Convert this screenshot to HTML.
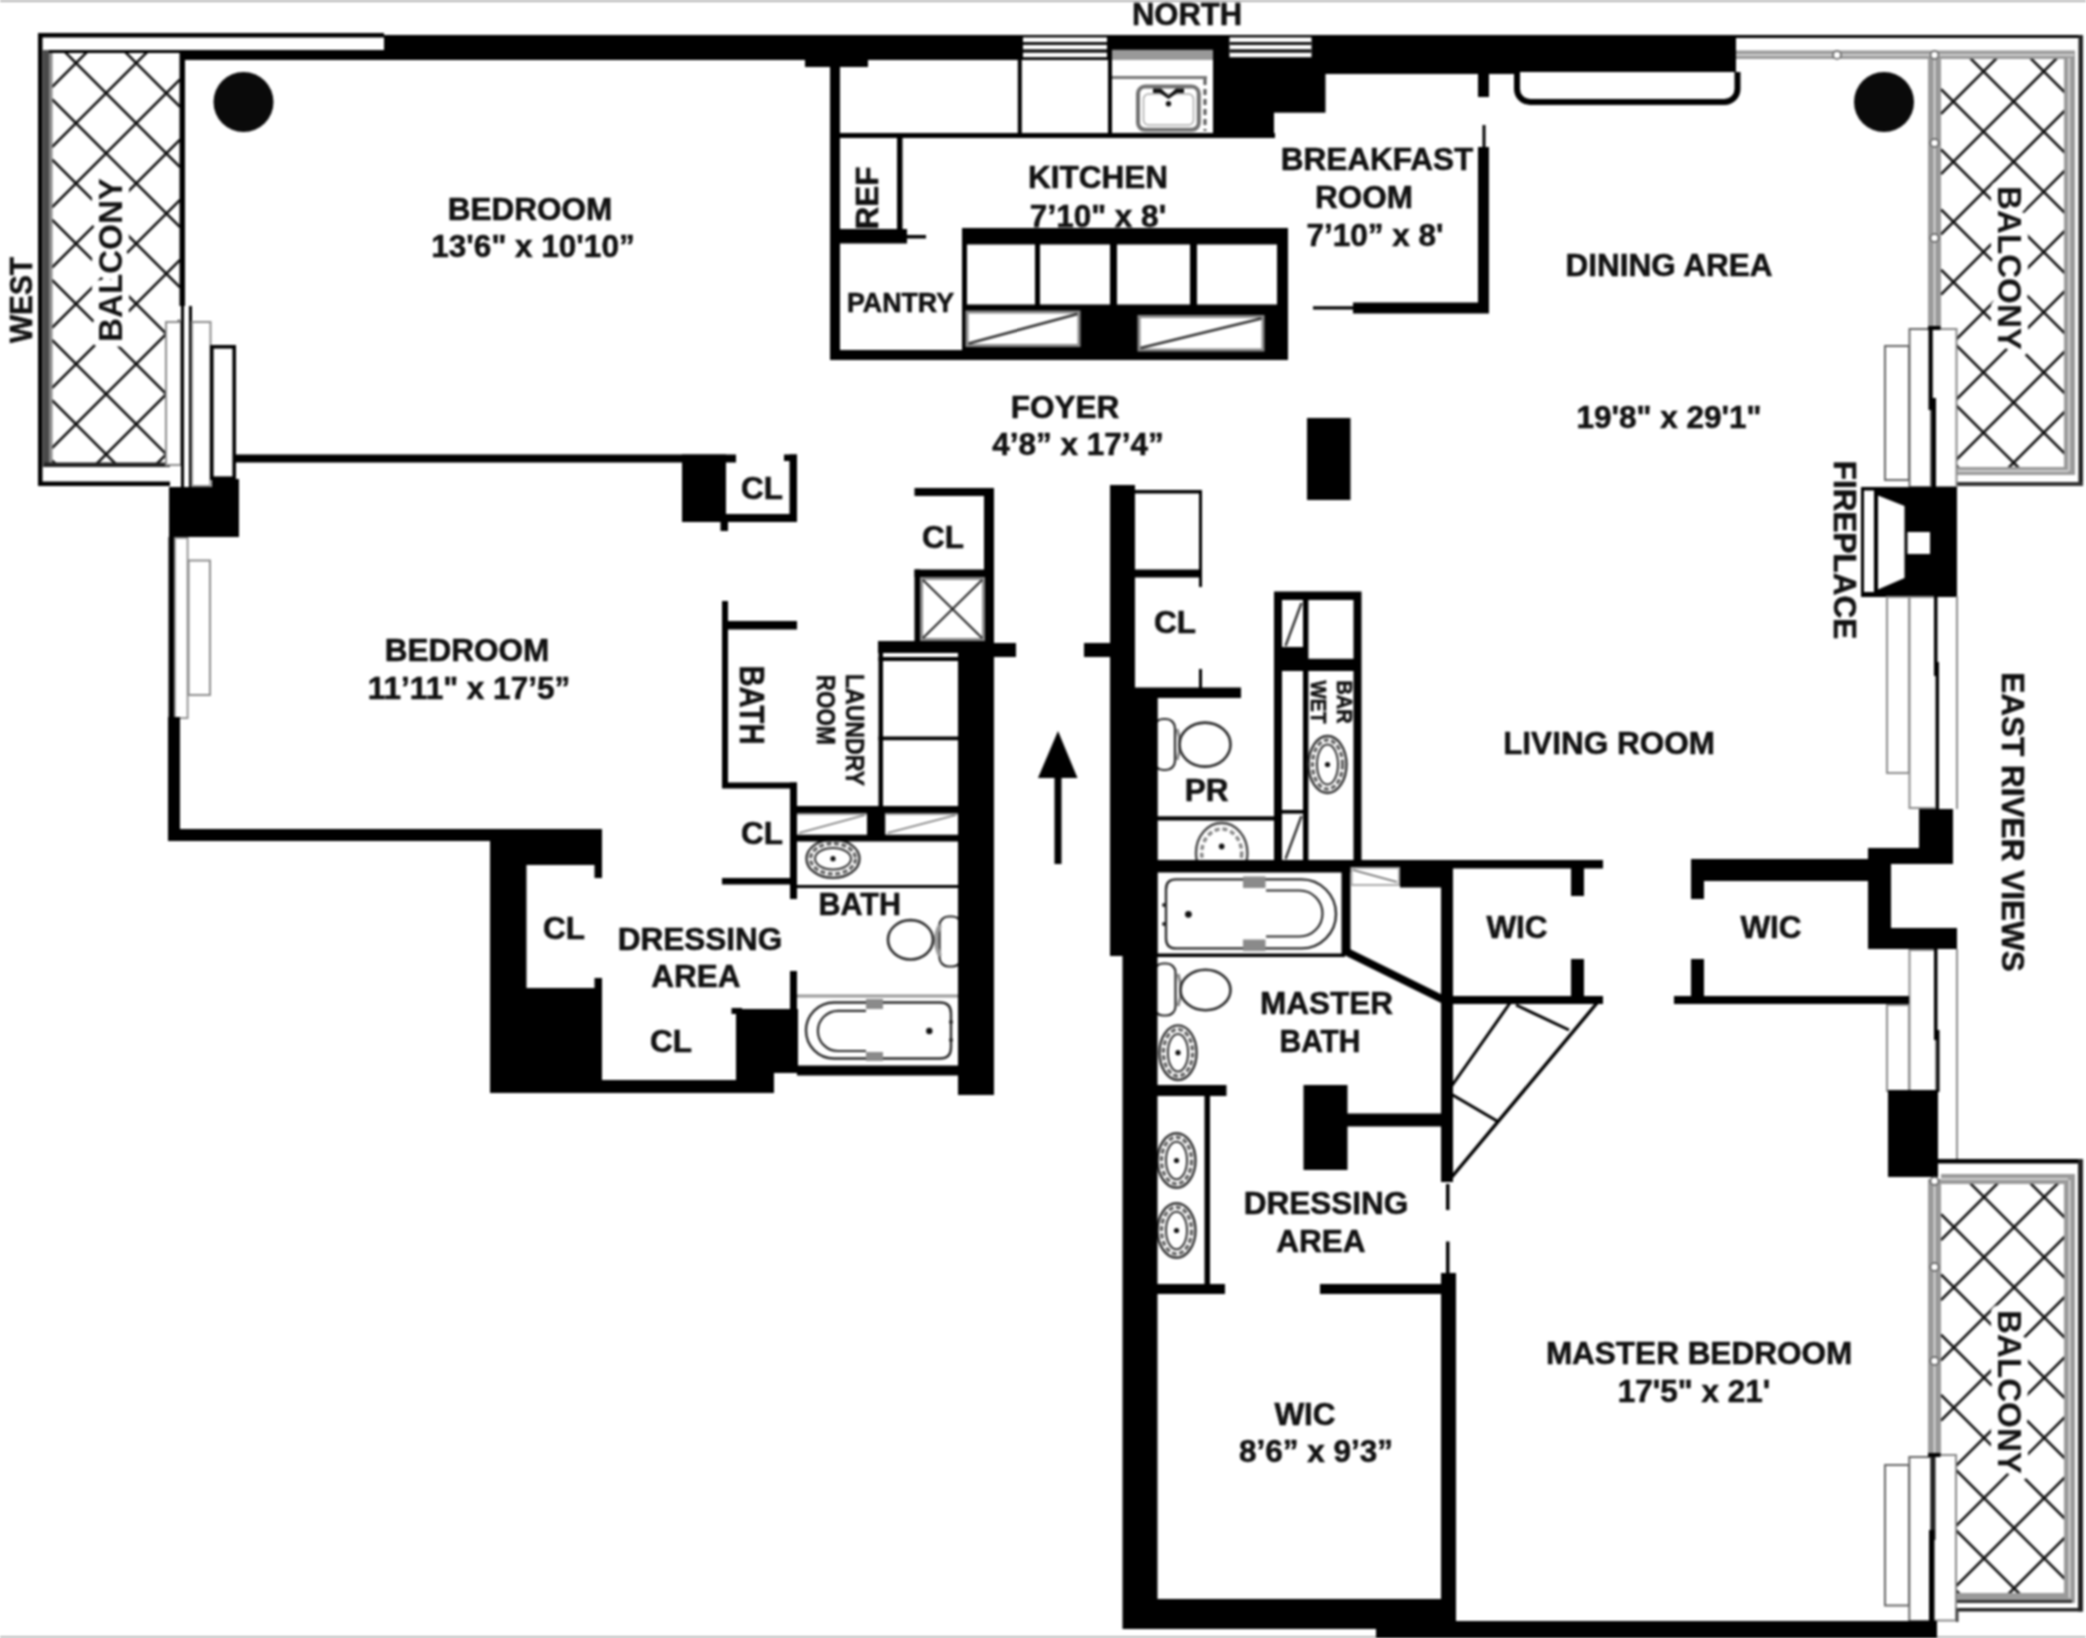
<!DOCTYPE html>
<html><head><meta charset="utf-8"><title>Floor plan</title>
<style>
html,body{margin:0;padding:0;background:#fff;}
body{width:2086px;height:1638px;overflow:hidden;}
svg{display:block;filter:blur(0.8px);}
svg text{font-family:"Liberation Sans",sans-serif;font-weight:bold;fill:#111;stroke:#111;stroke-width:0.55px;}
</style></head><body>
<svg width="2086" height="1638" viewBox="0 0 2086 1638">
<rect x="0" y="0" width="2086" height="1638" fill="#fff"/>
<rect x="0" y="0" width="2086" height="1.8" fill="#a8a8a8" />
<ellipse cx="833" cy="858.7" rx="26.5" ry="19.2" fill="#fff" stroke="#333" stroke-width="2.4"/>
<ellipse cx="833" cy="858.7" rx="22.5" ry="15.2" fill="none" stroke="#666" stroke-width="3.4" stroke-dasharray="5 2.5"/>
<ellipse cx="833" cy="858.7" rx="18.0" ry="10.7" fill="#fff" stroke="#333" stroke-width="2"/>
<circle cx="833" cy="858.7" r="2.6" fill="#111"/>
<rect x="939.5" y="916.5" width="22" height="50" rx="9" fill="#fff" stroke="#2a2a2a" stroke-width="2.2"/>
<path d="M940 925 q-8 15 0 31" fill="none" stroke="#999" stroke-width="4"/>
<ellipse cx="910.5" cy="939.8" rx="22.5" ry="19.7" fill="#fff" stroke="#2a2a2a" stroke-width="2.6"/>
<rect x="797" y="994.5" width="161" height="3.0" fill="#9a9a9a" />
<path d="M834 1002.5 H940 q11 0 11 11 V1047.5 q0 11 -11 11 H834 a28 28 0 0 1 0 -56 Z" fill="#fff" stroke="#2a2a2a" stroke-width="2.4"/>
<path d="M866 1010.8 H838 a20.1 20.1 0 0 0 0 40.2 H866" fill="none" stroke="#2a2a2a" stroke-width="2.2"/>
<rect x="866" y="999" width="17" height="10" fill="#8a8a8a" />
<rect x="866" y="1052" width="17" height="9" fill="#8a8a8a" />
<circle cx="929.3" cy="1031" r="3.2" fill="#111"/>
<circle cx="951" cy="1022" r="2" fill="#222"/><circle cx="951" cy="1040" r="2" fill="#222"/>
<rect x="1154" y="719" width="21" height="51" rx="9" fill="#fff" stroke="#2a2a2a" stroke-width="2.2"/>
<path d="M1177 729 q6 15 0 31" fill="none" stroke="#888" stroke-width="3"/>
<ellipse cx="1205" cy="744.6" rx="25.5" ry="22" fill="#fff" stroke="#2a2a2a" stroke-width="2.6"/>
<clipPath id="cpr"><rect x="1157" y="815" width="118" height="46"/></clipPath>
<ellipse cx="1221.7" cy="853" rx="25.7" ry="30" fill="#fff" stroke="#444" stroke-width="2.4" clip-path="url(#cpr)"/>
<ellipse cx="1221.7" cy="853" rx="20" ry="24" fill="none" stroke="#888" stroke-width="3.5" stroke-dasharray="5 3" clip-path="url(#cpr)"/>
<circle cx="1221.7" cy="846.4" r="2.8" fill="#111"/>
<path d="M1176 879.4 H1301.5 a34.5 34.5 0 0 1 0 69 H1176 q-10 0 -10 -10 V889.4 q0 -10 10 -10 Z" fill="#fff" stroke="#2a2a2a" stroke-width="2.4"/>
<path d="M1266 890.5 H1299.5 a23 23 0 0 1 0 46 H1266" fill="none" stroke="#2a2a2a" stroke-width="2.2"/>
<rect x="1243" y="876.5" width="22.5" height="11.5" fill="#8a8a8a" />
<rect x="1243" y="939.5" width="22.5" height="11.5" fill="#8a8a8a" />
<circle cx="1188.4" cy="914.3" r="3.4" fill="#111"/>
<circle cx="1164" cy="905" r="2" fill="#222"/><circle cx="1164" cy="924" r="2" fill="#222"/>
<rect x="1154" y="963.5" width="21.5" height="52" rx="9" fill="#fff" stroke="#2a2a2a" stroke-width="2.2"/>
<path d="M1178 974 q6 16 0 32" fill="none" stroke="#888" stroke-width="3"/>
<ellipse cx="1205.5" cy="990" rx="25" ry="20.3" fill="#fff" stroke="#2a2a2a" stroke-width="2.6"/>
<ellipse cx="1178" cy="1052.7" rx="18.6" ry="27.3" fill="#fff" stroke="#333" stroke-width="2.4"/>
<ellipse cx="1178" cy="1052.7" rx="14.600000000000001" ry="23.3" fill="none" stroke="#666" stroke-width="3.4" stroke-dasharray="5 2.5"/>
<ellipse cx="1178" cy="1052.7" rx="10.100000000000001" ry="18.8" fill="#fff" stroke="#333" stroke-width="2"/>
<circle cx="1178" cy="1052.7" r="2.6" fill="#111"/>
<ellipse cx="1176.5" cy="1160.5" rx="19" ry="27.3" fill="#fff" stroke="#333" stroke-width="2.4"/>
<ellipse cx="1176.5" cy="1160.5" rx="15" ry="23.3" fill="none" stroke="#666" stroke-width="3.4" stroke-dasharray="5 2.5"/>
<ellipse cx="1176.5" cy="1160.5" rx="10.5" ry="18.8" fill="#fff" stroke="#333" stroke-width="2"/>
<circle cx="1176.5" cy="1160.5" r="2.6" fill="#111"/>
<ellipse cx="1176.5" cy="1230.5" rx="19" ry="27.3" fill="#fff" stroke="#333" stroke-width="2.4"/>
<ellipse cx="1176.5" cy="1230.5" rx="15" ry="23.3" fill="none" stroke="#666" stroke-width="3.4" stroke-dasharray="5 2.5"/>
<ellipse cx="1176.5" cy="1230.5" rx="10.5" ry="18.8" fill="#fff" stroke="#333" stroke-width="2"/>
<circle cx="1176.5" cy="1230.5" r="2.6" fill="#111"/>
<clipPath id="hw"><rect x="52" y="53" width="128" height="410"/></clipPath>
<g clip-path="url(#hw)" stroke="#111" stroke-width="2.6">
<line x1="52" y1="-21.2" x2="180" y2="106.8"/>
<line x1="52" y1="39.0" x2="180" y2="167.0"/>
<line x1="52" y1="99.2" x2="180" y2="227.2"/>
<line x1="52" y1="159.4" x2="180" y2="287.4"/>
<line x1="52" y1="219.6" x2="180" y2="347.6"/>
<line x1="52" y1="279.8" x2="180" y2="407.8"/>
<line x1="52" y1="340.0" x2="180" y2="468.0"/>
<line x1="52" y1="400.2" x2="180" y2="528.2"/>
<line x1="52" y1="460.4" x2="180" y2="588.4"/>
<line x1="52" y1="87.0" x2="180" y2="-41.0"/>
<line x1="52" y1="147.2" x2="180" y2="19.2"/>
<line x1="52" y1="207.4" x2="180" y2="79.4"/>
<line x1="52" y1="267.6" x2="180" y2="139.6"/>
<line x1="52" y1="327.8" x2="180" y2="199.8"/>
<line x1="52" y1="388.0" x2="180" y2="260.0"/>
<line x1="52" y1="448.2" x2="180" y2="320.2"/>
<line x1="52" y1="508.4" x2="180" y2="380.4"/>
<line x1="52" y1="568.6" x2="180" y2="440.6"/>
</g>
<rect x="38" y="33" width="346" height="4.5" fill="#000" />
<rect x="38" y="33" width="4.5" height="453" fill="#000" />
<rect x="38" y="481.5" width="132" height="4.5" fill="#000" />
<rect x="44" y="50" width="136" height="3" fill="#000" />
<rect x="42.5" y="50" width="6.5" height="417" fill="#4a4a4a" />
<rect x="49" y="53" width="3.5" height="410" fill="#8a8a8a" />
<rect x="44" y="462.5" width="126" height="4.5" fill="#222" />
<rect x="179.5" y="50" width="5.5" height="256" fill="#000" />
<rect x="180" y="50" width="204" height="10" fill="#000" />
<rect x="384" y="35" width="1352" height="25" fill="#000" />
<rect x="1325" y="35" width="411" height="39" fill="#000" />
<rect x="805" y="60" width="63" height="7" fill="#000" />
<rect x="1023" y="37.4" width="84" height="19.8" fill="#fff" />
<rect x="1023" y="42" width="84" height="3" fill="#111" />
<rect x="1023" y="49.3" width="84" height="3.4" fill="#111" />
<rect x="1229.5" y="37.4" width="82.0" height="19.8" fill="#fff" />
<rect x="1229.5" y="42" width="82.0" height="3" fill="#111" />
<rect x="1229.5" y="49.3" width="82.0" height="3.4" fill="#111" />
<circle cx="243.5" cy="102" r="30" fill="#0a0a0a"/>
<rect x="235" y="454.5" width="501" height="8.0" fill="#000" />
<rect x="682" y="454.5" width="44" height="67.5" fill="#000" />
<rect x="789.5" y="454.5" width="7.5" height="67.5" fill="#000" />
<rect x="784" y="454.5" width="13" height="6.5" fill="#000" />
<rect x="726" y="514" width="71" height="8" fill="#000" />
<rect x="720.5" y="522" width="7.5" height="9" fill="#000" />
<rect x="166.0" y="322.0" width="15" height="143" fill="#fff" stroke="#8c8c8c" stroke-width="2"/>
<rect x="181" y="306" width="3" height="181" fill="#000" />
<rect x="189" y="306" width="3" height="181" fill="#000" />
<rect x="192.0" y="322.0" width="18.5" height="164" fill="#fff" stroke="#8c8c8c" stroke-width="2"/>
<rect x="211.8" y="346.8" width="22.4" height="131.4" fill="#fff" stroke="#000" stroke-width="3.6"/>
<rect x="169" y="487" width="70" height="50" fill="#000" />
<rect x="212" y="479" width="27" height="11" fill="#000" />
<rect x="168.5" y="537" width="7.0" height="182" fill="#000" />
<rect x="174.9" y="537.9" width="12.7" height="180.2" fill="#fff" stroke="#8c8c8c" stroke-width="1.8"/>
<rect x="188.5" y="560.5" width="21.5" height="134.5" fill="#fff" stroke="#8c8c8c" stroke-width="2"/>
<rect x="168" y="717" width="12" height="124" fill="#000" />
<rect x="168" y="829" width="434" height="12" fill="#000" />
<rect x="490" y="829" width="112" height="36" fill="#000" />
<rect x="490" y="829" width="36.5" height="264" fill="#000" />
<rect x="594.5" y="865" width="7.5" height="13" fill="#000" />
<rect x="594.5" y="978" width="7.5" height="11" fill="#000" />
<rect x="490" y="988" width="112" height="105" fill="#000" />
<rect x="602" y="1080" width="172" height="13" fill="#000" />
<rect x="736" y="1009" width="62" height="64" fill="#000" />
<rect x="736" y="1009" width="38" height="84" fill="#000" />
<rect x="731.5" y="1008" width="10.5" height="6" fill="#000" />
<rect x="830" y="60" width="10" height="300" fill="#000" />
<rect x="830" y="350" width="458" height="10" fill="#000" />
<rect x="840" y="133" width="435" height="5" fill="#000" />
<rect x="1017.8" y="60" width="4.0" height="74" fill="#000" />
<rect x="1108" y="60" width="4" height="74" fill="#000" />
<rect x="1213" y="60" width="112.5" height="52.7" fill="#000" />
<rect x="1213" y="60" width="61" height="78" fill="#000" />
<rect x="897" y="138" width="5.5" height="94" fill="#000" />
<rect x="830" y="229" width="77" height="14.5" fill="#000" />
<rect x="907" y="235" width="19" height="3.5" fill="#000" />
<rect x="962" y="228" width="326" height="132" fill="#000" />
<rect x="967" y="244.5" width="68" height="60.0" fill="#fff" />
<rect x="1040" y="244.5" width="70" height="60.0" fill="#fff" />
<rect x="1117" y="244.5" width="73" height="60.0" fill="#fff" />
<rect x="1197" y="244.5" width="80" height="60.0" fill="#fff" />
<rect x="962" y="243.5" width="1.8" height="106.5" fill="#000" />
<rect x="967.0" y="312.0" width="112.0" height="33.5" fill="#fff" stroke="#8a8a8a" stroke-width="3"/>
<line x1="968.5" y1="343.5" x2="1077.5" y2="314.0" stroke="#333" stroke-width="2.6" />
<rect x="1139.0" y="316.5" width="124.0" height="33.5" fill="#fff" stroke="#8a8a8a" stroke-width="3"/>
<line x1="1140.5" y1="348.0" x2="1261.5" y2="318.5" stroke="#333" stroke-width="2.6" />
<rect x="1112" y="49.8" width="101" height="9.8" fill="#999" />
<rect x="1112" y="59.6" width="101" height="73.4" fill="#fff" />
<rect x="1112" y="76" width="95" height="3" fill="#777" />
<rect x="1138" y="86.5" width="60.8" height="43.3" rx="7" fill="#fff" stroke="#707070" stroke-width="4"/>
<rect x="1143.5" y="94" width="50" height="31" rx="5" fill="#fff" stroke="#aaa" stroke-width="1.5"/>
<path d="M1153 88.5 h8 l7.5 7 l7.5 -7 h8 v4.5 h-7 l-8.5 6 l-8.5 -6 h-7 Z" fill="#111"/>
<circle cx="1168.5" cy="103.7" r="2.7" fill="#111"/>
<line x1="1205" y1="79" x2="1205" y2="131" stroke="#555" stroke-width="3" stroke-dasharray="6 4"/>
<rect x="1478" y="60" width="11" height="37" fill="#000" />
<rect x="1482.5" y="125" width="3.0" height="25" fill="#000" />
<rect x="1478" y="147" width="11" height="166" fill="#000" />
<rect x="1353" y="302.5" width="136" height="11.0" fill="#000" />
<rect x="1313" y="306.3" width="41" height="3.2" fill="#000" />
<path d="M1517 72 V89 a13 13 0 0 0 13 13 H1724.5 a13 13 0 0 0 13 -13 V72" fill="#fff" stroke="#000" stroke-width="6"/>
<circle cx="1884" cy="102" r="30" fill="#0a0a0a"/>
<rect x="1307" y="418" width="43.5" height="82" fill="#000" />
<clipPath id="hne"><rect x="1941" y="58" width="125" height="410"/></clipPath>
<g clip-path="url(#hne)" stroke="#111" stroke-width="2.6">
<line x1="1941" y1="-31.3" x2="2066" y2="93.7"/>
<line x1="1941" y1="28.9" x2="2066" y2="153.9"/>
<line x1="1941" y1="89.1" x2="2066" y2="214.1"/>
<line x1="1941" y1="149.3" x2="2066" y2="274.3"/>
<line x1="1941" y1="209.5" x2="2066" y2="334.5"/>
<line x1="1941" y1="269.7" x2="2066" y2="394.7"/>
<line x1="1941" y1="329.9" x2="2066" y2="454.9"/>
<line x1="1941" y1="390.1" x2="2066" y2="515.1"/>
<line x1="1941" y1="450.3" x2="2066" y2="575.3"/>
<line x1="1941" y1="113.9" x2="2066" y2="-11.1"/>
<line x1="1941" y1="174.1" x2="2066" y2="49.1"/>
<line x1="1941" y1="234.3" x2="2066" y2="109.3"/>
<line x1="1941" y1="294.5" x2="2066" y2="169.5"/>
<line x1="1941" y1="354.7" x2="2066" y2="229.7"/>
<line x1="1941" y1="414.9" x2="2066" y2="289.9"/>
<line x1="1941" y1="475.1" x2="2066" y2="350.1"/>
<line x1="1941" y1="535.3" x2="2066" y2="410.3"/>
</g>
<rect x="1736" y="35" width="347" height="3" fill="#000" />
<rect x="2078.5" y="35" width="4.5" height="451" fill="#222" />
<rect x="1956" y="482" width="127" height="4" fill="#333" />
<rect x="1736" y="50.5" width="339" height="8.5" fill="#9a9a9a" />
<rect x="1928" y="52" width="13" height="276" fill="#9a9a9a" />
<rect x="2064" y="52" width="11" height="423" fill="#9a9a9a" />
<rect x="1956" y="467" width="118" height="8" fill="#9a9a9a" />
<rect x="1736" y="54.3" width="338" height="1.4" fill="#e8e8e8" />
<rect x="1933.8" y="58" width="1.4" height="270" fill="#e8e8e8" />
<rect x="2068.3" y="58" width="1.4" height="413" fill="#e8e8e8" />
<rect x="1956" y="470.3" width="112" height="1.4" fill="#e8e8e8" />
<circle cx="1837" cy="55" r="4" fill="#fff" stroke="#555" stroke-width="1.5"/>
<circle cx="1934.5" cy="55" r="4" fill="#fff" stroke="#555" stroke-width="1.5"/>
<circle cx="1934.5" cy="143" r="4" fill="#fff" stroke="#555" stroke-width="1.5"/>
<circle cx="1934.5" cy="238" r="4" fill="#fff" stroke="#555" stroke-width="1.5"/>
<rect x="1885.0" y="346.0" width="24" height="134" fill="#fff" stroke="#666" stroke-width="2"/>
<rect x="1909.5" y="329.0" width="21.5" height="158" fill="#fff" stroke="#666" stroke-width="2"/>
<rect x="1932.0" y="329.0" width="24.5" height="158" fill="#fff" stroke="#888" stroke-width="2"/>
<rect x="1928.5" y="328" width="4.0" height="82" fill="#000" />
<rect x="1931.5" y="398" width="4.5" height="90" fill="#000" />
<rect x="1928" y="326" width="12.5" height="4" fill="#000" />
<rect x="1861" y="487" width="96" height="110" fill="#000" />
<rect x="1864" y="490.5" width="10" height="101.5" fill="#fff" />
<polygon points="1878,495.5 1904.5,506 1904.5,578 1878,589.5" fill="#fff"/>
<rect x="1907.5" y="532" width="22.5" height="22" fill="#fff" />
<rect x="1887.0" y="597.0" width="22" height="176" fill="#fff" stroke="#8c8c8c" stroke-width="2"/>
<rect x="1909.5" y="597.0" width="26.5" height="211" fill="#fff" stroke="#8c8c8c" stroke-width="2"/>
<rect x="1934" y="596" width="3.5" height="80" fill="#000" />
<rect x="1936" y="662" width="3" height="147" fill="#000" />
<rect x="1956" y="596" width="2" height="213" fill="#8c8c8c" />
<rect x="1919" y="809" width="34" height="55" fill="#000" />
<rect x="1868" y="848" width="85" height="16" fill="#000" />
<rect x="1868" y="848" width="23" height="101" fill="#000" />
<rect x="1868" y="928" width="89" height="21" fill="#000" />
<rect x="1909.5" y="950.0" width="26.5" height="141" fill="#fff" stroke="#8c8c8c" stroke-width="2"/>
<rect x="1934" y="949" width="3.5" height="91" fill="#000" />
<rect x="1936.5" y="1030" width="3.0" height="62" fill="#000" />
<rect x="1956" y="949" width="2" height="211" fill="#8c8c8c" />
<rect x="1887.0" y="1005.0" width="22" height="86" fill="#fff" stroke="#8c8c8c" stroke-width="2"/>
<rect x="1888" y="1090" width="50" height="87" fill="#000" />
<rect x="1157" y="860" width="194" height="12.5" fill="#000" />
<rect x="1350" y="860" width="253" height="8.5" fill="#000" />
<rect x="1441" y="860" width="12" height="322" fill="#000" />
<rect x="1571" y="868" width="13" height="28" fill="#000" />
<rect x="1571" y="959" width="13" height="38" fill="#000" />
<rect x="1451" y="996" width="152" height="8" fill="#000" />
<rect x="1691" y="859" width="177" height="22" fill="#000" />
<rect x="1691" y="881" width="13" height="18" fill="#000" />
<rect x="1691" y="959" width="13" height="38" fill="#000" />
<rect x="1674" y="996" width="235" height="8" fill="#000" />
<path d="M1597 1003 L1451 1178" stroke="#000" stroke-width="3.4" fill="none" />
<path d="M1510 1003 L1451 1087" stroke="#000" stroke-width="3" fill="none" />
<path d="M1516 1005 L1569 1030" stroke="#000" stroke-width="3" fill="none" />
<path d="M1451 1094 L1497 1121" stroke="#000" stroke-width="3" fill="none" />
<rect x="958" y="644" width="36" height="451" fill="#000" />
<rect x="878" y="641" width="116" height="12" fill="#000" />
<rect x="958" y="643" width="58" height="14" fill="#000" />
<rect x="984" y="488" width="10" height="156" fill="#000" />
<rect x="914.5" y="488" width="79.5" height="8" fill="#000" />
<rect x="914.5" y="569.5" width="70.5" height="7.5" fill="#000" />
<rect x="914.5" y="569.5" width="5.5" height="73.5" fill="#000" />
<rect x="921.5" y="578.5" width="62" height="61" fill="#fff" stroke="#8a8a8a" stroke-width="3"/>
<line x1="923" y1="580" x2="982" y2="638" stroke="#222" stroke-width="2" />
<line x1="982" y1="580" x2="923" y2="638" stroke="#222" stroke-width="2" />
<rect x="1110" y="485" width="25" height="471" fill="#000" />
<rect x="1122.5" y="691" width="35.0" height="938" fill="#000" />
<rect x="1135" y="691" width="22.5" height="265" fill="#000" />
<rect x="1084" y="643" width="26" height="14" fill="#000" />
<rect x="1135" y="490" width="67" height="3.5" fill="#000" />
<rect x="1199" y="490" width="3" height="97" fill="#000" />
<rect x="1135" y="569.5" width="67" height="8.0" fill="#000" />
<rect x="1199" y="669" width="3" height="21" fill="#000" />
<rect x="1135" y="687.5" width="106" height="10.5" fill="#000" />
<polygon points="1058,731 1077.5,778 1038,778" fill="#000"/>
<rect x="1054.5" y="775" width="7.0" height="89" fill="#000" />
<rect x="722" y="601" width="6" height="187" fill="#000" />
<rect x="722" y="621" width="75" height="8.5" fill="#000" />
<rect x="722" y="782.5" width="75" height="6.0" fill="#000" />
<rect x="790" y="782.5" width="7" height="116.5" fill="#000" />
<rect x="722" y="878" width="75" height="6.5" fill="#000" />
<rect x="790" y="971" width="7" height="98" fill="#000" />
<rect x="797" y="806" width="161" height="7" fill="#000" />
<rect x="797" y="834.5" width="161" height="7.0" fill="#000" />
<rect x="867" y="806" width="18.5" height="35" fill="#000" />
<rect x="797" y="813" width="70" height="21.5" fill="#fff" />
<line x1="799" y1="833" x2="865" y2="815" stroke="#777" stroke-width="1.8" />
<rect x="797" y="813" width="70" height="2" fill="#999" />
<rect x="885.5" y="813" width="72.5" height="21.5" fill="#fff" />
<line x1="887.5" y1="833" x2="956" y2="815" stroke="#777" stroke-width="1.8" />
<rect x="885.5" y="813" width="72.5" height="2" fill="#999" />
<rect x="797" y="885" width="161" height="3" fill="#000" />
<rect x="797" y="1065.5" width="161" height="10.0" fill="#000" />
<rect x="878.5" y="653" width="4.5" height="154" fill="#000" />
<rect x="878.5" y="657" width="79.5" height="4" fill="#000" />
<rect x="878.5" y="736.5" width="79.5" height="3.7" fill="#000" />
<rect x="883" y="653" width="75" height="4" fill="#fff" />
<rect x="1157" y="816.3" width="118" height="4.2" fill="#000" />
<rect x="1274" y="591.5" width="87.5" height="277.5" fill="#000" />
<rect x="1282" y="600" width="21" height="47" fill="#fff" />
<rect x="1308.4" y="600" width="45.1" height="58.8" fill="#fff" />
<rect x="1282" y="671" width="21" height="139" fill="#fff" />
<rect x="1282" y="813.6" width="21" height="46.4" fill="#fff" />
<rect x="1308.4" y="671" width="45.1" height="189" fill="#fff" />
<line x1="1285.5" y1="646" x2="1301.5" y2="603" stroke="#333" stroke-width="2.4" />
<line x1="1285.5" y1="859" x2="1301.5" y2="816" stroke="#333" stroke-width="2.4" />
<ellipse cx="1327.5" cy="764.5" rx="19" ry="28.5" fill="#fff" stroke="#333" stroke-width="2.4"/>
<ellipse cx="1327.5" cy="764.5" rx="15" ry="24.5" fill="none" stroke="#666" stroke-width="3.4" stroke-dasharray="5 2.5"/>
<ellipse cx="1327.5" cy="764.5" rx="10.5" ry="20.0" fill="#fff" stroke="#333" stroke-width="2"/>
<circle cx="1327.5" cy="764.5" r="2.6" fill="#111"/>
<rect x="1341.5" y="870" width="9.0" height="85" fill="#000" />
<rect x="1157" y="953.5" width="188" height="3.5" fill="#000" />
<path d="M1345 951 L1444 1000" stroke="#000" stroke-width="8" fill="none" />
<rect x="1351.5" y="868.0" width="47.5" height="17" fill="#fff" stroke="#aaa" stroke-width="2"/>
<line x1="1353" y1="870" x2="1397" y2="882" stroke="#666" stroke-width="1.8" />
<rect x="1400" y="866.5" width="50" height="21.0" fill="#000" />
<rect x="1303.5" y="1085" width="44.0" height="85" fill="#000" />
<rect x="1347" y="1113.5" width="94" height="13.0" fill="#000" />
<rect x="1157" y="1085" width="69.5" height="11" fill="#000" />
<rect x="1204.5" y="1096" width="5.5" height="189" fill="#000" />
<rect x="1157" y="1284" width="68" height="10" fill="#000" />
<rect x="1320" y="1284" width="121" height="10" fill="#000" />
<rect x="1446" y="1184" width="3.5" height="26" fill="#000" />
<rect x="1446" y="1241.5" width="3.5" height="32.5" fill="#000" />
<rect x="1441" y="1273" width="15" height="352" fill="#000" />
<rect x="1123" y="1599" width="333" height="30" fill="#000" />
<clipPath id="hse"><rect x="1941" y="1184" width="125" height="410"/></clipPath>
<g clip-path="url(#hse)" stroke="#111" stroke-width="2.6">
<line x1="1941" y1="1093.8" x2="2066" y2="1218.8"/>
<line x1="1941" y1="1154.0" x2="2066" y2="1279.0"/>
<line x1="1941" y1="1214.2" x2="2066" y2="1339.2"/>
<line x1="1941" y1="1274.4" x2="2066" y2="1399.4"/>
<line x1="1941" y1="1334.6" x2="2066" y2="1459.6"/>
<line x1="1941" y1="1394.8" x2="2066" y2="1519.8"/>
<line x1="1941" y1="1455.0" x2="2066" y2="1580.0"/>
<line x1="1941" y1="1515.2" x2="2066" y2="1640.2"/>
<line x1="1941" y1="1575.4" x2="2066" y2="1700.4"/>
<line x1="1941" y1="1240.0" x2="2066" y2="1115.0"/>
<line x1="1941" y1="1300.2" x2="2066" y2="1175.2"/>
<line x1="1941" y1="1360.4" x2="2066" y2="1235.4"/>
<line x1="1941" y1="1420.6" x2="2066" y2="1295.6"/>
<line x1="1941" y1="1480.8" x2="2066" y2="1355.8"/>
<line x1="1941" y1="1541.0" x2="2066" y2="1416.0"/>
<line x1="1941" y1="1601.2" x2="2066" y2="1476.2"/>
<line x1="1941" y1="1661.4" x2="2066" y2="1536.4"/>
</g>
<rect x="1938" y="1159" width="145" height="4.5" fill="#000" />
<rect x="2078" y="1159" width="5" height="452.5" fill="#222" />
<rect x="1957" y="1608" width="126" height="3.5" fill="#222" />
<rect x="1941" y="1174" width="133" height="10" fill="#9a9a9a" />
<rect x="1928" y="1179" width="13" height="276" fill="#9a9a9a" />
<rect x="2064" y="1174" width="11" height="429" fill="#9a9a9a" />
<rect x="1956" y="1593" width="118" height="7.5" fill="#9a9a9a" />
<rect x="1956" y="1600" width="116" height="3" fill="#333" />
<rect x="1941" y="1178.3" width="127" height="1.4" fill="#e8e8e8" />
<rect x="1933.8" y="1184" width="1.4" height="271" fill="#e8e8e8" />
<rect x="2068.8" y="1180" width="1.4" height="418" fill="#e8e8e8" />
<circle cx="1934.5" cy="1181" r="4" fill="#fff" stroke="#555" stroke-width="1.5"/>
<circle cx="1934.5" cy="1267" r="4" fill="#fff" stroke="#555" stroke-width="1.5"/>
<circle cx="1934.5" cy="1361" r="4" fill="#fff" stroke="#555" stroke-width="1.5"/>
<rect x="1885.0" y="1465.0" width="24" height="140.5" fill="#fff" stroke="#666" stroke-width="2"/>
<rect x="1909.3" y="1457.0" width="21.7" height="164" fill="#fff" stroke="#666" stroke-width="2"/>
<rect x="1932.0" y="1455.0" width="24" height="165.5" fill="#fff" stroke="#888" stroke-width="2"/>
<rect x="1931" y="1456" width="4.5" height="84" fill="#222" />
<rect x="1929" y="1530" width="5.5" height="92" fill="#000" />
<rect x="1928" y="1453" width="12.5" height="4" fill="#000" />
<rect x="1956" y="1608" width="2.5" height="14" fill="#444" />
<rect x="0" y="1636.3" width="2086" height="1.7" fill="#a8a8a8" />
<rect x="1376" y="1621" width="561" height="17" fill="#000" />
<text x="1187" y="25" font-size="31" text-anchor="middle" >NORTH</text>
<text x="32" y="300" font-size="31.5" text-anchor="middle" transform="rotate(-90 32 300)" textLength="86" lengthAdjust="spacingAndGlyphs" >WEST</text>
<text x="122" y="260" font-size="34" text-anchor="middle" transform="rotate(-90 122 260)" textLength="164" lengthAdjust="spacingAndGlyphs" style="stroke:#fff;stroke-width:14px;paint-order:stroke;stroke-linejoin:round">BALCONY</text>
<text x="1998" y="268" font-size="34" text-anchor="middle" transform="rotate(90 1998 268)" textLength="164" lengthAdjust="spacingAndGlyphs" style="stroke:#fff;stroke-width:14px;paint-order:stroke;stroke-linejoin:round">BALCONY</text>
<text x="1998" y="1392" font-size="34" text-anchor="middle" transform="rotate(90 1998 1392)" textLength="164" lengthAdjust="spacingAndGlyphs" style="stroke:#fff;stroke-width:14px;paint-order:stroke;stroke-linejoin:round">BALCONY</text>
<text x="2002" y="822" font-size="31.5" text-anchor="middle" transform="rotate(90 2002 822)" >EAST RIVER VIEWS</text>
<text x="1834" y="550" font-size="31.5" text-anchor="middle" transform="rotate(90 1834 550)" >FIREPLACE</text>
<text x="530" y="220" font-size="31.5" text-anchor="middle" >BEDROOM</text>
<text x="533" y="257" font-size="31.5" text-anchor="middle" >13'6" x 10'10”</text>
<text x="467" y="661" font-size="31.5" text-anchor="middle" >BEDROOM</text>
<text x="469" y="699" font-size="31.5" text-anchor="middle" >11’11" x 17’5”</text>
<text x="1098" y="188" font-size="31.5" text-anchor="middle" >KITCHEN</text>
<text x="1098" y="227" font-size="31.5" text-anchor="middle" >7’10" x 8'</text>
<text x="900.5" y="312" font-size="26.8" text-anchor="middle" >PANTRY</text>
<text x="878" y="198" font-size="31.5" text-anchor="middle" transform="rotate(-90 878 198)" >REF</text>
<text x="1377" y="170" font-size="31.5" text-anchor="middle" >BREAKFAST</text>
<text x="1364" y="208" font-size="31.5" text-anchor="middle" >ROOM</text>
<text x="1375" y="246" font-size="31.5" text-anchor="middle" >7’10” x 8'</text>
<text x="1669" y="276" font-size="31.5" text-anchor="middle" >DINING AREA</text>
<text x="1669" y="428" font-size="31.5" text-anchor="middle" >19'8" x 29'1"</text>
<text x="1065" y="418" font-size="31.5" text-anchor="middle" >FOYER</text>
<text x="1078" y="455" font-size="31.5" text-anchor="middle" >4’8” x 17’4”</text>
<text x="1609" y="754" font-size="31.5" text-anchor="middle" >LIVING ROOM</text>
<text x="762" y="499" font-size="31.5" text-anchor="middle" >CL</text>
<text x="943" y="548" font-size="31.5" text-anchor="middle" >CL</text>
<text x="1175" y="632.5" font-size="31.5" text-anchor="middle" >CL</text>
<text x="762" y="844" font-size="31.5" text-anchor="middle" >CL</text>
<text x="564" y="939" font-size="31.5" text-anchor="middle" >CL</text>
<text x="671" y="1052" font-size="31.5" text-anchor="middle" >CL</text>
<text x="1206.6" y="801" font-size="31.5" text-anchor="middle" >PR</text>
<text x="859.8" y="914.6" font-size="30.7" text-anchor="middle" textLength="82.5" lengthAdjust="spacingAndGlyphs" >BATH</text>
<text x="739.5" y="705" font-size="35" text-anchor="middle" transform="rotate(90 739.5 705)" textLength="79" lengthAdjust="spacingAndGlyphs" >BATH</text>
<text x="700" y="950" font-size="31.5" text-anchor="middle" >DRESSING</text>
<text x="696" y="987" font-size="31.5" text-anchor="middle" >AREA</text>
<text x="1517" y="938" font-size="31.5" text-anchor="middle" >WIC</text>
<text x="1771" y="938" font-size="31.5" text-anchor="middle" >WIC</text>
<text x="1326.5" y="1014.3" font-size="31.5" text-anchor="middle" >MASTER</text>
<text x="1320" y="1052.3" font-size="30.7" text-anchor="middle" textLength="81" lengthAdjust="spacingAndGlyphs" >BATH</text>
<text x="1326" y="1214" font-size="31.5" text-anchor="middle" >DRESSING</text>
<text x="1321" y="1252" font-size="31.5" text-anchor="middle" >AREA</text>
<text x="1305" y="1425" font-size="31.5" text-anchor="middle" >WIC</text>
<text x="1316" y="1462" font-size="31.5" text-anchor="middle" >8’6” x 9’3”</text>
<text x="1699" y="1364" font-size="31.5" text-anchor="middle" >MASTER BEDROOM</text>
<text x="1694" y="1402" font-size="31.5" text-anchor="middle" >17'5" x 21'</text>
<text x="845.5" y="730" font-size="26.5" text-anchor="middle" transform="rotate(90 845.5 730)" textLength="112" lengthAdjust="spacingAndGlyphs" >LAUNDRY</text>
<text x="817" y="709.7" font-size="26" text-anchor="middle" transform="rotate(90 817 709.7)" textLength="70" lengthAdjust="spacingAndGlyphs" >ROOM</text>
<text x="1310.5" y="702" font-size="21.5" text-anchor="middle" transform="rotate(90 1310.5 702)" textLength="43" lengthAdjust="spacingAndGlyphs" >WET</text>
<text x="1336.5" y="702" font-size="21.5" text-anchor="middle" transform="rotate(90 1336.5 702)" textLength="43" lengthAdjust="spacingAndGlyphs" >BAR</text>
</svg>
</body></html>
